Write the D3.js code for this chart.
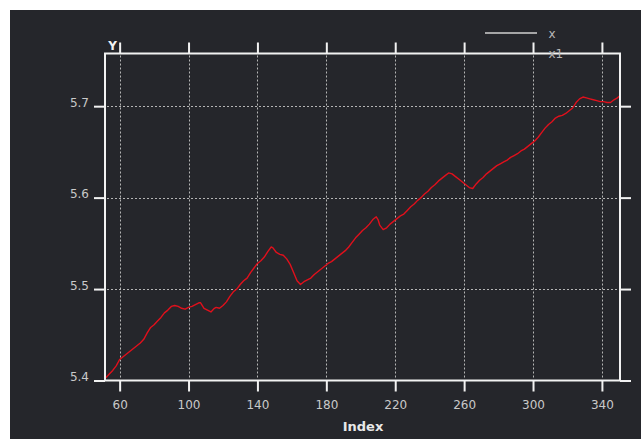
<!DOCTYPE html>
<html>
<head>
<meta charset="utf-8">
<script src="https://cdn.jsdelivr.net/npm/d3@7/dist/d3.min.js"></script>
<style>
  html, body { margin: 0; padding: 0; background: #ffffff; }
  svg { display: block; }
</style>
</head>
<body>
<svg id="chart" width="641" height="439"></svg>
<script>
// ---- data ----
const indexValues = [52,54,56,58,60,62,64,66,68,70,72,74,76,78,80,82,84,86,88,90,92,94,96,98,100,102,104,106,107,109,111,113,115,116,118,120,122,124,126,128,130,132,134,136,138,140,142,144,146,148,149,151,153,155,157,159,161,163,165,167,169,171,173,175,177,179,181,183,185,187,189,191,193,195,197,199,201,203,205,207,209,210,211,213,215,217,219,221,223,225,227,229,231,233,235,237,239,241,243,245,247,249,251,253,255,257,259,261,263,265,267,269,271,273,275,277,279,281,283,285,287,289,291,293,295,297,299,301,303,305,307,309,311,313,315,317,319,321,323,325,327,329,331,333,335,337,339,341,343,345,347,349,350];
const seriesX1 = [5.403,5.407,5.411,5.416,5.423,5.426,5.429,5.432,5.435,5.438,5.441,5.445,5.452,5.458,5.461,5.465,5.469,5.474,5.477,5.481,5.482,5.481,5.479,5.478,5.480,5.481,5.483,5.485,5.485,5.479,5.477,5.475,5.479,5.480,5.479,5.482,5.486,5.492,5.497,5.500,5.505,5.509,5.512,5.518,5.523,5.528,5.531,5.535,5.541,5.546,5.545,5.540,5.538,5.537,5.533,5.527,5.518,5.509,5.505,5.508,5.510,5.512,5.516,5.519,5.522,5.525,5.528,5.530,5.533,5.536,5.539,5.542,5.546,5.551,5.556,5.560,5.564,5.567,5.571,5.576,5.579,5.576,5.570,5.565,5.567,5.571,5.574,5.577,5.580,5.582,5.586,5.590,5.593,5.597,5.600,5.604,5.607,5.611,5.614,5.618,5.621,5.624,5.627,5.626,5.623,5.620,5.617,5.614,5.611,5.610,5.615,5.619,5.622,5.626,5.629,5.632,5.635,5.637,5.639,5.641,5.644,5.646,5.648,5.651,5.653,5.656,5.659,5.662,5.666,5.671,5.676,5.680,5.683,5.687,5.689,5.690,5.692,5.695,5.698,5.704,5.708,5.710,5.709,5.708,5.707,5.706,5.705,5.705,5.704,5.704,5.707,5.709,5.711];
const xTickValues = [60,100,140,180,220,260,300,340];
const yTickValues = [5.4,5.5,5.6,5.7];
const legendLabels = ["x","x1"];
const xTitle = "Index";
const yTitle = "Y";

// ---- layout ----
const svg = d3.select("#chart");
const L = 105, R = 620, T = 53.5, B = 380.5;
const x = d3.scaleLinear().domain([51.5, 350.5]).range([L, R]);
const y = d3.scaleLinear().domain([5.4, 5.7576]).range([B, T]);

svg.append("rect").attr("x",10).attr("y",10).attr("width",631).attr("height",429).attr("fill","#25262b");

const fontFam = "'DejaVu Sans', Verdana, sans-serif";
const tickCol = "#f2f2f2";
const labelCol = "#c9c9c9";

// grid
const grid = svg.append("g");
grid.selectAll("line.vx").data(xTickValues).enter().append("line")
  .attr("x1", d => Math.round(x(d)) + 0.5).attr("x2", d => Math.round(x(d)) + 0.5)
  .attr("y1", T + 2).attr("y2", B - 1)
  .attr("stroke", "#b5b5b5").attr("stroke-width", 1).attr("stroke-dasharray", "2,2");
grid.selectAll("line.hy").data(yTickValues.filter(d => d > 5.4)).enter().append("line")
  .attr("y1", d => Math.round(y(d)) + 0.5).attr("y2", d => Math.round(y(d)) + 0.5)
  .attr("x1", L + 2).attr("x2", R - 1)
  .attr("stroke", "#b5b5b5").attr("stroke-width", 1).attr("stroke-dasharray", "2,2");

// data line
const line = d3.line().x((d,i) => x(indexValues[i])).y(d => y(d));
svg.append("path").datum(seriesX1).attr("d", line)
  .attr("fill","none").attr("stroke","#e0101c").attr("stroke-width",1.4).attr("stroke-linejoin","round");

// axes
function styleAxis(g) {
  g.select(".domain").remove();
  g.selectAll(".tick line").attr("stroke", tickCol).attr("stroke-width", 2);
  g.selectAll(".tick text").attr("fill", labelCol).attr("font-family", fontFam).attr("font-size", 12);
}
const gB = svg.append("g").attr("transform", `translate(0,${B})`)
  .call(d3.axisBottom(x).tickValues(xTickValues).tickSize(11).tickPadding(9).tickFormat(d3.format("d")));
styleAxis(gB);
const gT = svg.append("g").attr("transform", `translate(0,${T})`)
  .call(d3.axisTop(x).tickValues(xTickValues).tickSize(11).tickFormat(""));
styleAxis(gT);
const gL = svg.append("g").attr("transform", `translate(${L},0)`)
  .call(d3.axisLeft(y).tickValues(yTickValues).tickSize(11).tickPadding(5).tickFormat(d3.format(".1f")));
styleAxis(gL);
gL.selectAll(".tick text").attr("dy", "0");
const gR = svg.append("g").attr("transform", `translate(${R},0)`)
  .call(d3.axisRight(y).tickValues(yTickValues).tickSize(11).tickFormat(""));
styleAxis(gR);

// frame
svg.append("rect").attr("x", L).attr("y", T).attr("width", R - L).attr("height", B - T)
  .attr("fill","none").attr("stroke", tickCol).attr("stroke-width", 2);

// titles
svg.append("text").attr("x", 363).attr("y", 430.5).attr("text-anchor","middle")
  .attr("font-family", fontFam).attr("font-size", 13).attr("font-weight","bold")
  .attr("fill", "#e8e8e8").text(xTitle);
svg.append("text").attr("x", 112.5).attr("y", 50).attr("text-anchor","middle")
  .attr("font-family", fontFam).attr("font-size", 12).attr("font-weight","bold")
  .attr("fill", "#f2f2f2").text(yTitle);

// legend
svg.append("line").attr("x1", 485).attr("x2", 537).attr("y1", 33).attr("y2", 33)
  .attr("stroke", "#d0d0d0").attr("stroke-width", 1.5);
svg.append("text").attr("x", 548.5).attr("y", 37.5)
  .attr("font-family", fontFam).attr("font-size", 12).attr("fill", "#b8b8b8").text(legendLabels[0]);
svg.append("text").attr("x", 548.5).attr("y", 57.5)
  .attr("font-family", fontFam).attr("font-size", 12).attr("fill", "#b8b8b8").text(legendLabels[1]);
</script>
</body>
</html>
